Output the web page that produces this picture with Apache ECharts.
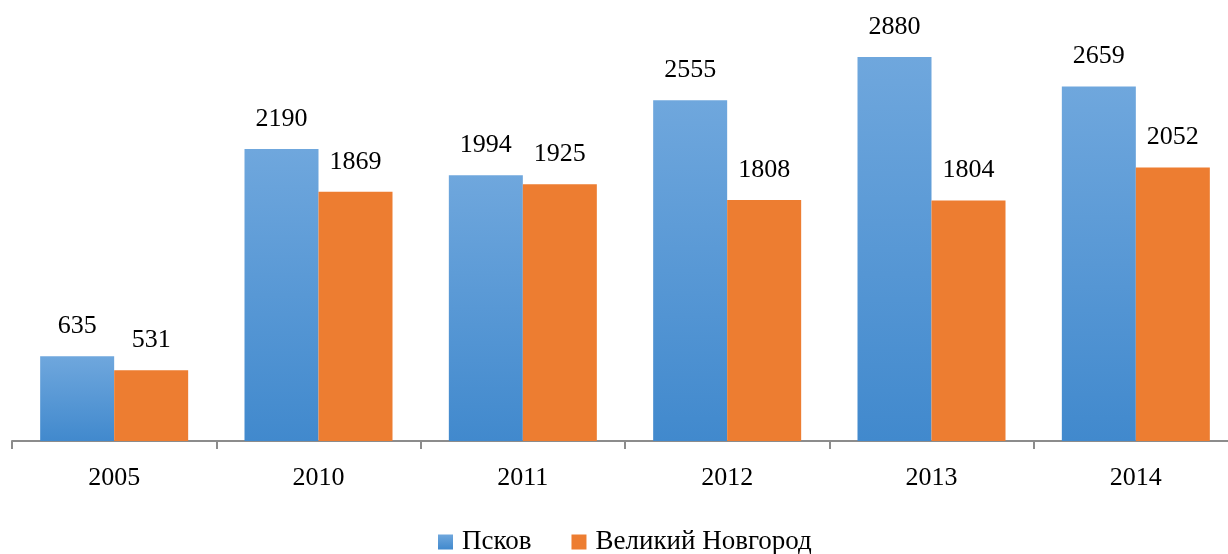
<!DOCTYPE html>
<html>
<head>
<meta charset="utf-8">
<script src="https://cdn.jsdelivr.net/npm/echarts@6/dist/echarts.min.js"></script>
<style>
  html, body { margin: 0; padding: 0; background: #fff; }
  #chart { width: 1228px; height: 554px; }
</style>
</head>
<body>
<div id="chart"></div>
<script>
const years = ["2005", "2010", "2011", "2012", "2013", "2014"];
const pskov = [635, 2190, 1994, 2555, 2880, 2659];
const novgorod = [531, 1869, 1925, 1808, 1804, 2052];

const font = "'Liberation Serif', 'DejaVu Serif', serif";

const myChart = echarts.init(document.getElementById("chart"));

function gradient(c1, c2) {
  return {
    type: "linear",
    x: 0, y: 0, x2: 0, y2: 1,
    colorStops: [
      { offset: 0, color: c1 },
      { offset: 1, color: c2 },
    ],
  };
}

const label = {
  show: true,
  position: "top",
  distance: 17,
  fontFamily: font,
  fontSize: 26,
  color: "#000",
};

myChart.setOption({
  animation: false,
  textStyle: { fontFamily: font },
  grid: { left: 12, top: 41, width: 1226, height: 400, outerBoundsMode: "none", containLabel: false },
  legend: {
    top: 527,
    left: 438,
    padding: 0,
    icon: "rect",
    itemWidth: 15,
    itemHeight: 15,
    itemGap: 40,
    textStyle: { fontFamily: font, fontSize: 27, lineHeight: 30, color: "#000", padding: [0, 0, 0, 4] },
    data: [
      { name: "Псков", itemStyle: { color: gradient("#6fa7dd", "#4189cd") } },
      { name: "Великий Новгород", itemStyle: { color: "#ed7d31" } },
    ],
  },
  xAxis: {
    type: "category",
    data: years,
    axisLine: { lineStyle: { color: "#8c8c8c", width: 2 } },
    axisTick: { show: true, length: 8, lineStyle: { color: "#8c8c8c", width: 2 } },
    axisLabel: { fontFamily: font, fontSize: 26, color: "#000", margin: 24 },
  },
  yAxis: {
    type: "value",
    min: 0,
    max: 3000,
    show: false,
    splitLine: { show: false },
  },
  series: [
    {
      name: "Псков",
      type: "bar",
      barWidth: 74,
      barGap: "0%",
      data: pskov,
      itemStyle: { color: gradient("#6fa7dd", "#4189cd") },
      label: label,
    },
    {
      name: "Великий Новгород",
      type: "bar",
      barWidth: 74,
      data: novgorod,
      itemStyle: { color: "#ed7d31" },
      label: label,
    },
  ],
});
</script>
</body>
</html>
